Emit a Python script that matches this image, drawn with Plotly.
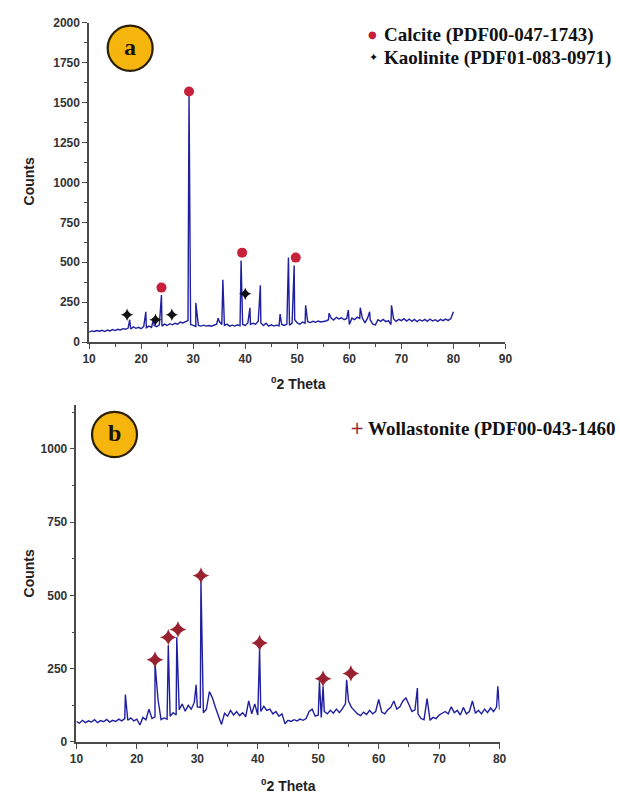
import numpy as np
import plotly.graph_objects as go

W, H = 620, 805

# ---------------- Panel (a) data ----------------
base_a = [
    62, 70, 66, 72, 68, 74, 66, 75, 70, 78,
    72, 80, 76, 84, 80, 88, 82, 95, 86, 92,
    84, 98, 90, 100, 92, 104, 96, 108, 100, 112,
    104, 115, 108, 118, 112, 125, 120, 130, 135, 110,
    104, 98, 104, 100, 106, 100, 104, 99, 106, 112,
    130, 110, 104, 112, 100, 106, 100, 108, 102, 110,
    104, 120, 110, 118, 112, 130, 120, 104, 118, 100,
    108, 100, 106, 102, 110, 104, 112, 106, 118, 140,
    120, 112, 125, 118, 128, 122, 130, 124, 132, 126,
    128, 132, 140, 150, 138, 155, 145, 152, 140, 148,
    110, 150, 140, 156, 148, 150, 120, 150, 140, 112,
    108, 140, 130, 142, 128, 135, 110, 145, 130, 142,
    134, 146, 132, 144, 130, 142, 128, 140, 132, 142,
    130, 144, 132, 140, 130, 142, 134, 144, 136, 148,
    190,
]
peak_a_x = [17.8, 20.9, 22.4, 23.9, 29.2, 30.5, 34.8, 35.7, 39.2, 40.9,
            42.9, 46.7, 48.3, 49.4, 51.6, 56.1, 59.8, 62.1, 63.9, 68.1]
peak_a_y = [140, 190, 150, 295, 1555, 245, 150, 390, 510, 215,
            355, 175, 530, 480, 230, 180, 200, 215, 190, 230]

calcite_x = [23.9, 29.2, 39.4, 49.7]
calcite_y = [341, 1569, 560, 529]
kaolinite_x = [17.3, 22.75, 25.9, 40.0]
kaolinite_y = [171, 140, 171, 302]

# ---------------- Panel (b) data ----------------
base_b = [
    70, 64, 74, 66, 72, 68, 76, 66, 73, 69,
    77, 68, 74, 70, 78, 72, 80, 74, 82, 72,
    78, 58, 84, 76, 112, 80, 86, 145, 76, 82,
    78, 88, 100, 92, 110, 130, 105, 125, 112, 135,
    120, 118, 100, 112, 172, 150, 118, 92, 60, 98,
    88, 108, 92, 104, 90, 100, 86, 140, 96, 130,
    92, 104, 122, 108, 112, 96, 104, 88, 96, 62,
    74, 70, 76, 72, 78, 74, 80, 104, 112, 88,
    92, 84, 104, 96, 108, 98, 112, 100, 114, 130,
    140, 118, 108, 96, 90, 102, 94, 108, 96, 104,
    145, 102, 96, 110, 118, 140, 112, 120, 140, 150,
    128, 104, 110, 96, 80, 76, 148, 74, 84, 80,
    92, 98, 104, 96, 120, 100, 108, 92, 118, 96,
    104, 140, 98, 108, 96, 112, 100, 116, 104, 120,
    110,
]
peak_b_x = [18.1, 23.0, 25.2, 26.6, 29.8, 30.6, 40.3, 50.2, 50.8, 54.7, 66.4, 79.7]
peak_b_y = [162, 270, 330, 357, 195, 551, 318, 207, 190, 212, 184, 190]

wollastonite_x = [23.0, 25.2, 26.8, 30.6, 40.3, 50.8, 55.4]
wollastonite_y = [281, 357, 384, 568, 338, 216, 234]

x_ticks_a = [10, 20, 30, 40, 50, 60, 70, 80, 90]
y_ticks_a = [0, 250, 500, 750, 1000, 1250, 1500, 1750, 2000]
x_ticks_b = [10, 20, 30, 40, 50, 60, 70, 80]
y_ticks_b = [0, 250, 500, 750, 1000]


def merge(base, px, py):
    bx = list(10 + 0.5 * np.arange(len(base)))
    pts = sorted(list(zip(bx, base)) + list(zip(px, py)))
    return [p[0] for p in pts], [p[1] for p in pts]


xa, ya = merge(base_a, peak_a_x, peak_a_y)
xb, yb = merge(base_b, peak_b_x, peak_b_y)


def fx(p):
    return p / W


def fy(p):
    return 1 - p / H


LINE = "#1f1fa0"
AX = "#4a4a4a"
TICKFONT = dict(family="Liberation Sans, Arial", size=12, color="#333333", weight="bold")

fig = go.Figure()
fig.add_trace(go.Scatter(x=xa, y=ya, mode="lines", line=dict(color=LINE, width=1.4),
                         xaxis="x", yaxis="y", showlegend=False))
fig.add_trace(go.Scatter(x=calcite_x, y=calcite_y, mode="markers",
                         marker=dict(symbol="circle", size=10, color="#c8203a"),
                         xaxis="x", yaxis="y", showlegend=False))
fig.add_trace(go.Scatter(x=kaolinite_x, y=kaolinite_y, mode="markers",
                         marker=dict(symbol="star-diamond", size=9, color="#111111"),
                         xaxis="x", yaxis="y", showlegend=False))
fig.add_trace(go.Scatter(x=xb, y=yb, mode="lines", line=dict(color=LINE, width=1.4),
                         xaxis="x2", yaxis="y2", showlegend=False))
fig.add_trace(go.Scatter(x=wollastonite_x, y=wollastonite_y, mode="markers",
                         marker=dict(symbol="star-diamond", size=12, color="#9a2230"),
                         xaxis="x2", yaxis="y2", showlegend=False))


def axis_common():
    return dict(showline=True, linecolor=AX, linewidth=1.5, ticks="outside",
                ticklen=5, tickwidth=1.3, tickcolor=AX, showgrid=False,
                zeroline=False, tickfont=TICKFONT, fixedrange=True)


fig.update_layout(
    width=W, height=H,
    margin=dict(l=0, r=0, t=0, b=0),
    paper_bgcolor="white", plot_bgcolor="white",
    xaxis=dict(**axis_common(), domain=[fx(84), fx(510)], range=[10, 90],
               tickvals=x_ticks_a, anchor="y",
               minor=dict(ticks="outside", ticklen=3, dtick=5, tick0=5, tickcolor=AX, tickwidth=1)),
    yaxis=dict(**axis_common(), domain=[fy(341), fy(16)], range=[0, 2000],
               tickvals=y_ticks_a, anchor="x",
               minor=dict(ticks="outside", ticklen=3, dtick=125, tick0=0, tickcolor=AX, tickwidth=1)),
    xaxis2=dict(**axis_common(), domain=[fx(71), fx(504)], range=[10, 80],
                tickvals=x_ticks_b, anchor="y2",
                minor=dict(ticks="outside", ticklen=3, dtick=5, tick0=5, tickcolor=AX, tickwidth=1)),
    yaxis2=dict(**axis_common(), domain=[fy(748), fy(405)], range=[0, 1150],
                tickvals=y_ticks_b, anchor="x2",
                minor=dict(ticks="outside", ticklen=3, dtick=125, tick0=0, tickcolor=AX, tickwidth=1)),
)

# badges
for cx, cy, letter in [(126, 42, "a"), (110, 435, "b")]:
    r = 23
    fig.add_shape(type="circle", xref="paper", yref="paper",
                  x0=fx(cx - r), x1=fx(cx + r), y0=fy(cy + r), y1=fy(cy - r),
                  fillcolor="#f5b50c", line=dict(color="#2a1f05", width=2.2))
    fig.add_annotation(xref="paper", yref="paper", x=fx(cx), y=fy(cy - 1), text=f"<b>{letter}</b>",
                       showarrow=False, xanchor="center", yanchor="middle",
                       font=dict(family="Liberation Serif", size=24, color="#1a1208"))

TITLEFONT = dict(family="Liberation Sans, Arial", size=14, color="#222222", weight="bold")
ann = [
    (22, 178, "Counts", -90, TITLEFONT, "center"),
    (22, 577, "Counts", -90, TITLEFONT, "center"),
    (298, 383, "<sup>0</sup>2 Theta", 0, TITLEFONT, "center"),
    (288, 792, "<sup>0</sup>2 Theta", 0, TITLEFONT, "center"),
]
for x, y, t, ang, f, xa_ in ann:
    fig.add_annotation(xref="paper", yref="paper", x=fx(x), y=fy(y), text=t, textangle=ang,
                       showarrow=False, xanchor=xa_, yanchor="middle", font=f)

LEGFONT = dict(family="Liberation Serif", size=19, color="#111111")
legend_items = [
    (384, 28, "<b>Calcite (PDF00-047-1743)</b>"),
    (384, 52, "<b>Kaolinite (PDF01-083-0971)</b>"),
    (367, 429, "<b>Wollastonite (PDF00-043-1460</b>"),
]
for x, y, t in legend_items:
    fig.add_annotation(xref="paper", yref="paper", x=fx(x), y=fy(y), text=t,
                       showarrow=False, xanchor="left", yanchor="middle", font=LEGFONT)

sym_items = [
    (374, 28, "●", "#c8203a", 10),
    (375, 51, "✦", "#111111", 11),
    (358, 428, "+", "#9a2230", 17),
]
for x, y, t, c, s in sym_items:
    fig.add_annotation(xref="paper", yref="paper", x=fx(x), y=fy(y), text=t,
                       showarrow=False, xanchor="center", yanchor="middle",
                       font=dict(family="DejaVu Sans", size=s, color=c))

fig.write_html("out.html")
